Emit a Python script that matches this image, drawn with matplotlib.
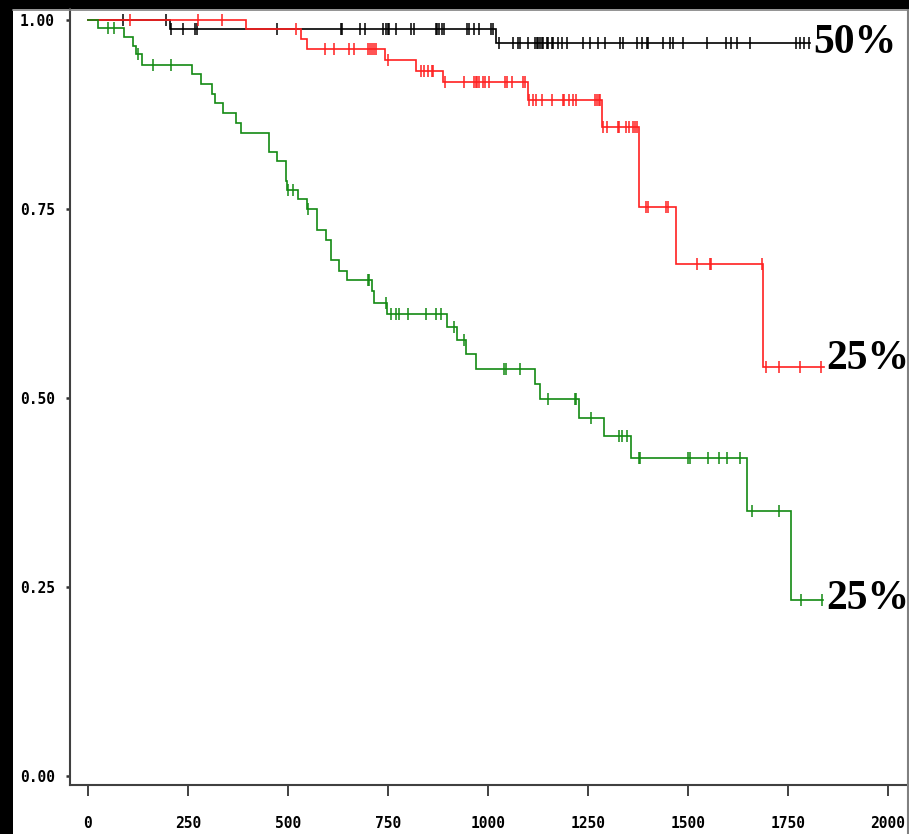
import matplotlib
matplotlib.use("Agg")
import matplotlib.pyplot as plt
from matplotlib.lines import Line2D
from matplotlib.patches import Rectangle
import numpy as np

# Kaplan-Meier steps: event times (days) and survival after each step
black_t = [0, 205, 1020, 1805]
black_s = [1.0, 0.988, 0.969, 0.969]
black_cens = [87, 195, 207, 237, 267, 272, 472, 632, 636, 681, 693, 738, 745, 749,
              753, 770, 807, 816, 870, 873, 877, 884, 890, 947, 953, 965, 978, 1007,
              1013, 1027, 1063, 1076, 1080, 1101, 1118, 1122, 1126, 1130, 1134, 1138,
              1147, 1151, 1159, 1163, 1176, 1184, 1197, 1237, 1255, 1274, 1293, 1330,
              1338, 1373, 1384, 1397, 1401, 1437, 1455, 1463, 1487, 1547, 1595, 1607,
              1622, 1655, 1770, 1780, 1790, 1803]

red_t = [0, 395, 532, 547, 742, 820, 887, 1100, 1285, 1377, 1469, 1688, 1840]
red_s = [1.0, 0.988, 0.975, 0.961, 0.947, 0.933, 0.918, 0.894, 0.858, 0.752,
         0.677, 0.541, 0.541]
red_cens = [105, 275, 335, 520, 593, 616, 652, 666, 701, 705, 709, 715, 720, 749,
            832, 840, 851, 859, 863, 893, 941, 965, 970, 973, 978, 987, 993, 1003,
            1043, 1048, 1059, 1087, 1093, 1102, 1113, 1120, 1136, 1159, 1187, 1189,
            1203, 1212, 1220, 1268, 1273, 1278, 1281, 1288, 1298, 1324, 1328, 1344,
            1353, 1363, 1368, 1372, 1395, 1401, 1445, 1451, 1522, 1554, 1557, 1686,
            1695, 1728, 1780, 1832]

green_t = [0, 26, 91, 112, 120, 136, 259, 283, 311, 318, 338, 369, 383, 453, 472,
           495, 498, 526, 548, 572, 595, 607, 628, 648, 710, 715, 748, 897, 923, 944,
           971, 1118, 1130, 1228, 1290, 1357, 1648, 1757, 1838]
green_s = [1.0, 0.989, 0.977, 0.965, 0.955, 0.941, 0.929, 0.915, 0.902, 0.890,
           0.877, 0.864, 0.851, 0.826, 0.813, 0.787, 0.775, 0.763, 0.750, 0.722,
           0.709, 0.682, 0.668, 0.656, 0.642, 0.626, 0.611, 0.594, 0.577, 0.558,
           0.539, 0.518, 0.499, 0.473, 0.450, 0.420, 0.350, 0.233, 0.233]
green_cens = [49, 66, 124, 162, 207, 499, 512, 549, 700, 702, 744, 758, 769, 778, 799,
              844, 869, 882, 915, 941, 1041, 1044, 1080, 1151, 1218, 1221, 1257, 1328,
              1336, 1347, 1377, 1379, 1499, 1505, 1551, 1578, 1598, 1630, 1659, 1728,
              1782, 1836]

end_labels = ["50%", "25%", "25%"]
label_x = [1812, 1845, 1845]
label_y = [0.969, 0.552, 0.234]

xticks = [0, 250, 500, 750, 1000, 1250, 1500, 1750, 2000]
yticks = [0.00, 0.25, 0.50, 0.75, 1.00]


def surv_at(t, s, x):
    idx = np.searchsorted(t, x, side="right") - 1
    return np.asarray(s)[idx]


W, H = 909, 834
fig = plt.figure(figsize=(W / 100, H / 100), dpi=100)
fig.patch.set_facecolor("black")

# white page with a grey frame
fig.add_artist(Rectangle((13 / W, 0), (907 - 13) / W, 1 - 9 / H,
                         transform=fig.transFigure, facecolor="white",
                         edgecolor="none", zorder=-10))
fig.add_artist(Line2D([13 / W, 909 / W], [1 - 9.5 / H, 1 - 9.5 / H],
                      transform=fig.transFigure, color="#808080", lw=1.2))
fig.add_artist(Line2D([907.5 / W, 907.5 / W], [0, 1 - 9.5 / H],
                      transform=fig.transFigure, color="#808080", lw=1.5))

ax = fig.add_axes([70 / W, (H - 785) / H, (907 - 70) / W, (785 - 9) / H])
ax.set_facecolor("white")

curves = [
    (black_t, black_s, black_cens, "black"),
    (red_t, red_s, red_cens, "#ff2020"),
    (green_t, green_s, green_cens, "#138a13"),
]
for t, s, cens, col in curves:
    ax.step(t, s, where="post", color=col, lw=1.2, solid_joinstyle="miter")
    ax.plot(cens, surv_at(t, s, cens), ls="none", marker="|", color=col,
            ms=8, mew=1.1)

for txt, x, y in zip(end_labels, label_x, label_y):
    ax.text(x, y, txt, fontsize=30, fontweight="bold", family="Liberation Serif",
            ha="left", va="center", color="black", clip_on=False)

ax.set_xlim((70 - 88) / 0.4, (907 - 88) / 0.4)
ax.set_ylim(-9 / 756, 1 + 11 / 756)
ax.set_xticks(xticks)
ax.set_xticklabels([str(v) for v in xticks])
ax.set_yticks(yticks)
ax.set_yticklabels(["%.2f" % v for v in yticks])

for lab in ax.get_xticklabels() + ax.get_yticklabels():
    lab.set_family("DejaVu Sans Mono")
    lab.set_fontweight("bold")
    lab.set_fontsize(10.5)

ax.tick_params(axis="x", direction="out", length=8, width=1.3, pad=14, colors="#333333")
ax.tick_params(axis="y", direction="out", length=3, width=1.8, pad=8, colors="#333333")
for lab in ax.get_xticklabels() + ax.get_yticklabels():
    lab.set_color("black")

ax.spines["top"].set_visible(False)
ax.spines["right"].set_visible(False)
ax.spines["left"].set_color("#404040")
ax.spines["bottom"].set_color("#404040")
ax.spines["left"].set_linewidth(1.5)
ax.spines["bottom"].set_linewidth(1.5)

fig.savefig("out.png", dpi=100, facecolor=fig.get_facecolor())
